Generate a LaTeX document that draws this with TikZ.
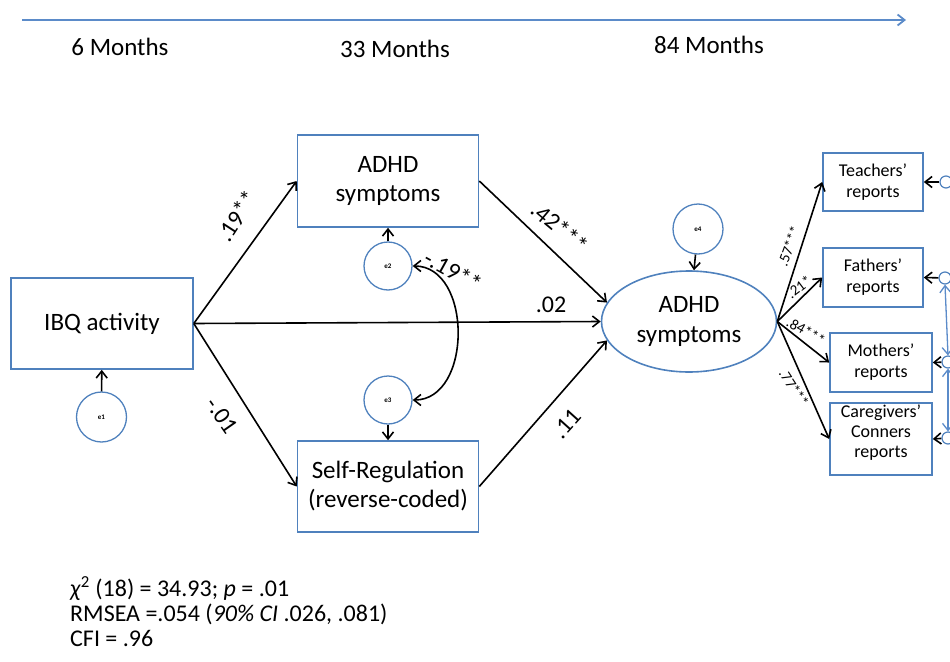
\documentclass[tikz,border=0pt]{standalone}
\usepackage{fontspec}
\setmainfont{Carlito}
\usetikzlibrary{arrows.meta,shapes.geometric}
\definecolor{boxblue}{RGB}{79,129,189}
\definecolor{lineblue}{RGB}{91,139,201}

\begin{document}
\begin{tikzpicture}[x=1pt,y=-1pt,
    >={Straight Barb[length=7pt,width=11pt]},
    var/.style={draw=boxblue, line width=1.6pt, rectangle, inner sep=0pt, align=center, font=\fontsize{25}{29}\selectfont},
    lat/.style={draw=boxblue, line width=1.6pt, ellipse, inner sep=0pt, align=center, font=\fontsize{25}{30}\selectfont},
    err/.style={draw=boxblue, line width=1.3pt, circle, inner sep=0pt, font=\fontsize{7}{8}\selectfont\bfseries},
    rep/.style={var, font=\fontsize{18}{21}\selectfont},
    dot/.style={draw=boxblue, line width=1.2pt, circle, inner sep=0pt, minimum size=12pt},
    path/.style={->, line width=1.6pt},
    coef/.style={font=\fontsize{24}{28}\selectfont, inner sep=1pt},
    scoef/.style={font=\fontsize{15}{18}\selectfont, inner sep=1pt},
  ]
    \useasboundingbox (0,0) rectangle (950,661);

    % Time line
    \coordinate (t0) at (22,20);
    \coordinate (t1) at (906,20);
    \draw[->, draw=lineblue, line width=1.8pt] (t0) -- (t1);
    \node[font=\fontsize{25}{29}\selectfont] (m6) at (120,47) {6 Months};
    \node[font=\fontsize{25}{29}\selectfont] (m33) at (395,49) {33 Months};
    \node[font=\fontsize{25}{29}\selectfont] (m84) at (709,45) {84 Months};

    % Observed and latent variables
    \node[var, minimum width=182pt, minimum height=91pt] (ibq) at (102,323.5) {IBQ activity};
    \node[var, minimum width=181pt, minimum height=92pt] (adhdA) at (388,181) {ADHD\\symptoms};
    \node[var, minimum width=181pt, minimum height=91pt] (selfreg) at (388,486.5) {Self-Regulation\\(reverse-coded)};
    \node[lat, minimum width=175pt, minimum height=101pt] (adhdB) at (689,321.5) {ADHD\\symptoms};

    % Error terms
    \node[err, minimum size=50pt] (e1) at (101.5,417) {e1};
    \node[err, minimum size=48pt] (e2) at (388,266) {e2};
    \node[err, minimum size=48pt] (e3) at (388,400) {e3};
    \node[err, minimum size=50pt] (e4) at (698,229) {e4};
    \draw[path] (e1) -- (ibq);
    \draw[path] (e2) -- (adhdA);
    \draw[path] (e3) -- (selfreg);
    \draw[path] (e4) -- (adhdB);
    \draw[<->, line width=1.6pt] (e2.east) .. controls +(60,0) and +(60,0) .. (e3.east);
    \node[coef, rotate=-29] (r23) at (453,271) {-.19**};

    % Paths
    \draw[path] (ibq.east) -- (adhdA.west);
    \draw[path] (ibq.east) -- (selfreg.west);
    \draw[path] (ibq.east) -- (adhdB.west);
    \draw[path] (adhdA.east) -- (adhdB.167);
    \draw[path] (selfreg.east) -- (adhdB.193);
    \node[coef, rotate=57] (bA) at (237,216) {.19**};
    \node[coef, rotate=-55] (bS) at (222,416) {-.01};
    \node[coef] (bB) at (551,305) {.02};
    \node[coef, rotate=-40] (bAB) at (560,227) {.42***};
    \node[coef, rotate=48] (bSB) at (567,424) {.11};

    % Reports
    \node[rep, minimum width=100pt, minimum height=58pt] (teach) at (873,182) {Teachers'\\reports};
    \node[rep, minimum width=100pt, minimum height=59pt] (fath) at (873,277.5) {Fathers'\\reports};
    \node[rep, minimum width=102pt, minimum height=59pt] (moth) at (881,362.5) {Mothers'\\reports};
    \node[rep, minimum width=102pt, minimum height=72pt, font=\fontsize{18}{20}\selectfont] (care) at (881,439) {Caregivers'\\Conners\\reports\\[-4pt]};
    \draw[path] (adhdB.east) -- (teach.west);
    \draw[path] (adhdB.east) -- (fath.west);
    \draw[path] (adhdB.east) -- (moth.west);
    \draw[path] (adhdB.east) -- (care.west);
    \node[scoef, rotate=70] (lT) at (789,246) {.57***};
    \node[scoef, rotate=37] (lF) at (799,287) {.21*};
    \node[scoef, rotate=-30] (lM) at (806,331) {.84***};
    \node[scoef, rotate=-57] (lC) at (794,388) {.77***};

    % Report errors
    \node[dot] (cT) at (946,182) {};
    \node[dot] (cF) at (945,278) {};
    \node[dot] (cM) at (948,362) {};
    \node[dot] (cC) at (948,438) {};
    \draw[path] (cT) -- (teach.east);
    \draw[path] (cF) -- (fath.east);
    \draw[path] (cM) -- (moth.east);
    \draw[path] (cC) -- (care.east);
    \draw[<->, draw=lineblue, line width=1.3pt] (cF.south) -- (cM.north);
    \draw[<->, draw=lineblue, line width=1.3pt] (cM.south) -- (cC.north);

    % Fit
    \node[anchor=north west, align=left, inner sep=0pt, font=\fontsize{24}{25}\selectfont] (fit) at (70,576)
      {\textit{χ}\textsuperscript{2} (18) = 34.93; \textit{p} = .01\\
       RMSEA =.054 (\textit{90\% CI} .026, .081)\\
       CFI = .96};
\end{tikzpicture}
\end{document}
